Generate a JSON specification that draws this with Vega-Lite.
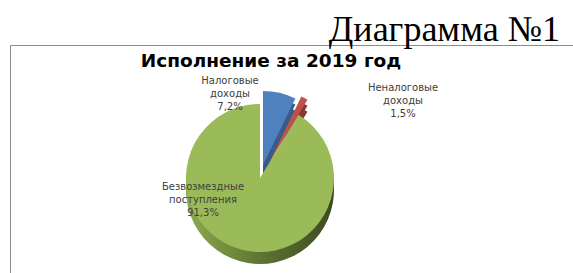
{
  "$schema": "https://vega.github.io/schema/vega-lite/v6.json",
  "width": 570,
  "height": 240,
  "autosize": {"type": "none"},
  "padding": {"left": 10, "top": 45, "right": 0, "bottom": 0},
  "background": "#ffffff",
  "view": {"stroke": "#8c8c8c", "strokeWidth": 1},
  "config": {"view": {"stroke": "#8c8c8c", "strokeWidth": 1}},
  "title": {"text": "Диаграмма №1", "anchor": "end", "dx": -20, "offset": -4, "font": "Liberation Serif", "fontSize": 36, "fontWeight": "normal", "color": "#000000"},
  "data": {"values": [
    {"category": "Налоговые доходы", "value": 7.2, "order": 1, "label": "Налоговые\nдоходы\n7,2%"},
    {"category": "Неналоговые доходы", "value": 1.5, "order": 2, "label": "Неналоговые\nдоходы\n1,5%"},
    {"category": "Безвозмездные поступления", "value": 91.3, "order": 3, "label": "Безвозмездные\nпоступления\n91,3%"}
  ]},
  "transform": [{"stack": "value", "groupby": [], "sort": [{"field": "order", "order": "ascending"}], "as": ["v0", "v1"]}],
  "layer": [
    {"transform": [{"filter": "datum.order == 1"}], "mark": {"type": "arc", "outerRadius": 74, "xOffset": -32, "yOffset": 12, "fill": "#375C8A"}, "encoding": {"theta": {"field": "v0", "type": "quantitative", "scale": {"domain": [0, 100]}}, "theta2": {"field": "v1"}}},
    {"transform": [{"filter": "datum.order == 1"}], "mark": {"type": "arc", "outerRadius": 74, "xOffset": -32, "yOffset": 6, "fill": "#375C8A"}, "encoding": {"theta": {"field": "v0", "type": "quantitative", "scale": {"domain": [0, 100]}}, "theta2": {"field": "v1"}}},
    {"transform": [{"filter": "datum.order == 2"}], "mark": {"type": "arc", "outerRadius": 74, "xOffset": -26, "yOffset": 10, "fill": "#8B3532"}, "encoding": {"theta": {"field": "v0", "type": "quantitative", "scale": {"domain": [0, 100]}}, "theta2": {"field": "v1"}}},
    {"transform": [{"filter": "datum.order == 2"}], "mark": {"type": "arc", "outerRadius": 74, "xOffset": -26, "yOffset": 4, "fill": "#8B3532"}, "encoding": {"theta": {"field": "v0", "type": "quantitative", "scale": {"domain": [0, 100]}}, "theta2": {"field": "v1"}}},
    {"transform": [{"filter": "datum.order == 3"}], "mark": {"type": "arc", "outerRadius": 74, "xOffset": -35, "yOffset": 25, "fill": {"gradient": "linear", "x1": 0, "y1": 0, "x2": 1, "y2": 0, "stops": [{"offset": 0, "color": "#8DAA50"}, {"offset": 0.5, "color": "#5E7533"}, {"offset": 1, "color": "#3D4A22"}]}}, "encoding": {"theta": {"field": "v0", "type": "quantitative", "scale": {"domain": [0, 100]}}, "theta2": {"field": "v1"}}},
    {"transform": [{"filter": "datum.order == 3"}], "mark": {"type": "arc", "outerRadius": 74, "xOffset": -35, "yOffset": 19, "fill": {"gradient": "linear", "x1": 0, "y1": 0, "x2": 1, "y2": 0, "stops": [{"offset": 0, "color": "#8DAA50"}, {"offset": 0.5, "color": "#5E7533"}, {"offset": 1, "color": "#3D4A22"}]}}, "encoding": {"theta": {"field": "v0", "type": "quantitative", "scale": {"domain": [0, 100]}}, "theta2": {"field": "v1"}}},
    {"transform": [{"filter": "datum.order == 1"}], "mark": {"type": "arc", "outerRadius": 74, "xOffset": -32, "yOffset": 0, "fill": "#4F81BD"}, "encoding": {"theta": {"field": "v0", "type": "quantitative", "scale": {"domain": [0, 100]}}, "theta2": {"field": "v1"}}},
    {"transform": [{"filter": "datum.order == 2"}], "mark": {"type": "arc", "outerRadius": 74, "xOffset": -26, "yOffset": -2, "fill": "#C0504D"}, "encoding": {"theta": {"field": "v0", "type": "quantitative", "scale": {"domain": [0, 100]}}, "theta2": {"field": "v1"}}},
    {"transform": [{"filter": "datum.order == 3"}], "mark": {"type": "arc", "outerRadius": 74, "xOffset": -35, "yOffset": 13, "fill": "#9BBB59"}, "encoding": {"theta": {"field": "v0", "type": "quantitative", "scale": {"domain": [0, 100]}}, "theta2": {"field": "v1"}}},
    {"transform": [{"filter": "datum.order == 3"}], "mark": {"type": "text", "lineBreak": "\n", "lineHeight": 13, "align": "center", "baseline": "middle", "font": "DejaVu Sans", "fontSize": 10, "color": "#404040", "dx": -92, "dy": 22}, "encoding": {"text": {"field": "label", "type": "nominal"}}},
    {"transform": [{"filter": "datum.order == 1"}], "mark": {"type": "text", "lineBreak": "\n", "lineHeight": 13, "align": "center", "baseline": "middle", "font": "DejaVu Sans", "fontSize": 10, "color": "#404040", "dx": -65, "dy": -84}, "encoding": {"text": {"field": "label", "type": "nominal"}}},
    {"transform": [{"filter": "datum.order == 2"}], "mark": {"type": "text", "lineBreak": "\n", "lineHeight": 13, "align": "center", "baseline": "middle", "font": "DejaVu Sans", "fontSize": 10, "color": "#404040", "dx": 108, "dy": -77}, "encoding": {"text": {"field": "label", "type": "nominal"}}},
    {"data": {"values": [{"t": "Исполнение за 2019 год"}]}, "mark": {"type": "text", "align": "center", "baseline": "middle", "font": "DejaVu Sans", "fontSize": 18.5, "fontWeight": "bold", "color": "#000000", "dx": -24, "dy": -104}, "encoding": {"text": {"field": "t", "type": "nominal"}}}
  ]
}
